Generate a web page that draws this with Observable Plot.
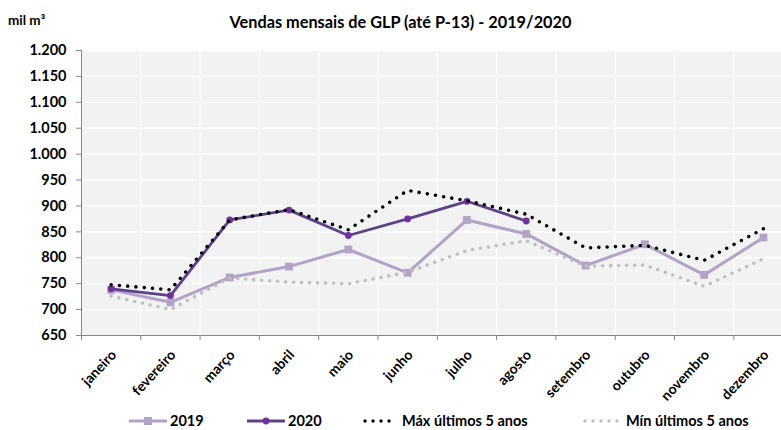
<!DOCTYPE html>
<html><head><meta charset="utf-8">
<script src="https://cdn.jsdelivr.net/npm/d3@7"></script>
<script src="https://cdn.jsdelivr.net/npm/@observablehq/plot@0.6"></script>
<style>
html,body{margin:0;padding:0;background:#fff;overflow:hidden}
#wrap{position:relative;width:781px;height:430px;font-family:Lato,"Open Sans",sans-serif;font-weight:bold;color:#000;overflow:hidden}
#chart{position:absolute;left:0;top:0}
.title{position:absolute;top:12px;left:0;width:801px;text-align:center;font-size:16.3px;white-space:nowrap}
.unit{position:absolute;top:12px;left:8px;font-size:13.5px}
.leg{position:absolute;top:412px;height:17px;line-height:17px;font-size:14.5px;white-space:nowrap;display:flex;align-items:center}
.leg svg{margin-right:3px}
</style></head>
<body><div id="wrap"><div id="chart"></div>
<div class="unit">mil m³</div>
<div class="title">Vendas mensais de GLP (até P-13) - 2019/2020</div>
<div id="legend"></div>
</div>
<script>
const months = ["janeiro","fevereiro","março","abril","maio","junho","julho","agosto","setembro","outubro","novembro","dezembro"];
const v2019 = [738,714,762,783,816,771,873,846,785,826,767,839];
const v2020 = [740,727,873,892,843,875,909,871];
const vMax = [748,738,873,893,854,930,910,884,819,824,795,856];
const vMin = [726,700,761,753,750,772,814,833,784,786,745,798];
const yTicks = [650,700,750,800,850,900,950,1000,1050,1100,1150,1200];
const seriesNames = ["2019","2020","Máx últimos 5 anos","Mín últimos 5 anos"];

const c2019 = "#b3a2c7", c2020line = "#5f4189", c2020dot = "#7030a0", cMax = "#000000", cMin = "#bfbfbf";

const rows = vals => vals.map((v,i) => ({i, m: months[i], v}));
const d2019 = rows(v2019), d2020 = rows(v2020), dMax = rows(vMax), dMin = rows(vMin);
const fmt = d3.formatLocale({thousands:".", decimal:",", grouping:[3], currency:["",""]}).format(",");
const xc = d => d.i + 0.5;
const bounds = d3.range(months.length + 1);

const chart = Plot.plot({
  width: 781, height: 430,
  marginTop: 50, marginBottom: 95, marginLeft: 81, marginRight: 0,
  style: {fontFamily: "Lato, 'Open Sans', sans-serif", fontWeight: "bold", fontSize: "13px", color: "#000", background: "transparent"},
  x: {domain: [0, months.length], range: [81, 792.6], axis: null},
  y: {domain: [650, 1200], axis: null},
  marks: [
    Plot.frame({fill: "#f2f2f2", stroke: null}),
    Plot.ruleY(yTicks, {stroke: "#ffffff", strokeWidth: 1.3}),
    Plot.ruleX(bounds, {stroke: "#ffffff", strokeWidth: 1.3}),
    Plot.ruleX([0], {stroke: "#868686", strokeWidth: 1}),
    Plot.ruleY([650], {stroke: "#868686", strokeWidth: 1}),
    Plot.axisY({ticks: yTicks, label: null, tickSize: 5, tickPadding: 10, tickFormat: fmt, stroke: "#868686", fontSize: 14.5, fontWeight: "bold", fill: "#000"}),
    Plot.axisX({ticks: bounds, label: null, tickSize: 5, tickFormat: () => "", stroke: "#868686"}),
    Plot.text(d2019, {x: xc, text: "m", frameAnchor: "bottom", rotate: -47, textAnchor: "end", dx: 6, dy: 20, fontSize: 14, fontWeight: "bold", fill: "#000"}),
    Plot.line(d2019, {x: xc, y: "v", stroke: c2019, strokeWidth: 3}),
    Plot.dot(d2019, {x: xc, y: "v", symbol: "square", r: 4.4, fill: c2019}),
    Plot.line(d2020, {x: xc, y: "v", stroke: c2020line, strokeWidth: 2.8}),
    Plot.dot(d2020, {x: xc, y: "v", r: 3.4, fill: c2020dot}),
    Plot.line(dMax, {x: xc, y: "v", stroke: cMax, strokeWidth: 3.6, strokeDasharray: "0 8.3", strokeLinecap: "round"}),
    Plot.line(dMin, {x: xc, y: "v", stroke: cMin, strokeWidth: 3.6, strokeDasharray: "0 8", strokeLinecap: "round"})
  ]
});
document.getElementById("chart").append(chart);

// legend
const leg = document.getElementById("legend");
const keys = [
  {x: 129, w: 38, kind: "sq", color: c2019},
  {x: 247, w: 38, kind: "ci", color: c2020line, dot: c2020dot},
  {x: 363, w: 36, kind: "dots", color: cMax},
  {x: 583, w: 40, kind: "dots", color: cMin}
];
keys.forEach((k, j) => {
  const div = document.createElement("div");
  div.className = "leg";
  div.style.left = k.x + "px";
  let s = `<svg width="${k.w}" height="12">`;
  if (k.kind === "sq") s += `<line x1="0" x2="${k.w}" y1="6" y2="6" stroke="${k.color}" stroke-width="3"/><rect x="${k.w/2-4}" y="2" width="8" height="8" fill="${k.color}"/>`;
  else if (k.kind === "ci") s += `<line x1="0" x2="${k.w}" y1="6" y2="6" stroke="${k.color}" stroke-width="2.8"/><circle cx="${k.w/2}" cy="6" r="3.4" fill="${k.dot}"/>`;
  else s += `<line x1="2" x2="${k.w-2}" y1="6" y2="6" stroke="${k.color}" stroke-width="3.4" stroke-dasharray="0 8" stroke-linecap="round"/>`;
  s += `</svg>`;
  div.innerHTML = s + `<span>${seriesNames[j]}</span>`;
  leg.append(div);
});
</script>
</body></html>
